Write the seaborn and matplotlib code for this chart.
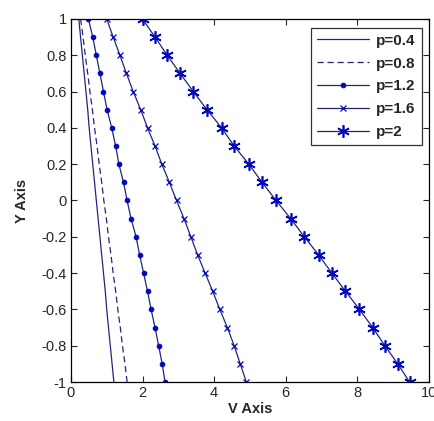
import matplotlib
matplotlib.use("Agg")
import matplotlib.pyplot as plt
import seaborn as sns
import pandas as pd

y_vals = [1.0, 0.9, 0.8, 0.7, 0.6, 0.5, 0.4, 0.3, 0.2, 0.1, 0.0,
          -0.1, -0.2, -0.3, -0.4, -0.5, -0.6, -0.7, -0.8, -0.9, -1.0]
v_p04 = [0.22, 0.27, 0.32, 0.37, 0.42, 0.47, 0.51, 0.56, 0.61, 0.66, 0.71,
         0.76, 0.81, 0.86, 0.91, 0.96, 1.00, 1.05, 1.10, 1.15, 1.20]
v_p08 = [0.27, 0.34, 0.40, 0.47, 0.53, 0.60, 0.66, 0.73, 0.79, 0.86, 0.92,
         0.99, 1.05, 1.12, 1.18, 1.25, 1.31, 1.38, 1.44, 1.51, 1.57]
v_p12 = [0.49, 0.61, 0.71, 0.81, 0.91, 1.01, 1.14, 1.25, 1.34, 1.47, 1.57,
         1.68, 1.82, 1.92, 2.03, 2.14, 2.24, 2.35, 2.45, 2.55, 2.63]
v_p16 = [1.00, 1.18, 1.37, 1.55, 1.74, 1.95, 2.14, 2.35, 2.54, 2.75, 2.95,
         3.16, 3.35, 3.54, 3.75, 3.96, 4.16, 4.37, 4.56, 4.73, 4.90]
v_p20 = [2.00, 2.35, 2.69, 3.05, 3.42, 3.80, 4.21, 4.56, 4.97, 5.34, 5.73,
         6.14, 6.52, 6.92, 7.29, 7.67, 8.06, 8.43, 8.77, 9.13, 9.46]
labels = ["p=0.4", "p=0.8", "p=1.2", "p=1.6", "p=2"]
x_ticks = [0, 2, 4, 6, 8, 10]
x_ticklabels = ["0", "2", "4", "6", "8", "10"]
y_ticks = [-1, -0.8, -0.6, -0.4, -0.2, 0, 0.2, 0.4, 0.6, 0.8, 1]
y_ticklabels = ["-1", "-0.8", "-0.6", "-0.4", "-0.2", "0", "0.2", "0.4", "0.6", "0.8", "1"]

sns.set_style("ticks")
plt.rcParams["font.family"] = ["Liberation Sans", "DejaVu Sans"]
plt.rcParams["xtick.direction"] = "in"
plt.rcParams["ytick.direction"] = "in"

fig = plt.figure(figsize=(4.35, 4.21), dpi=100)
ax = fig.add_axes([0.163, 0.0926, 0.823, 0.8624])

line_color = "#24247e"
marker_color = "#0008b8"
styles = [
    dict(linestyle="-", marker=None),
    dict(linestyle=(0, (5, 3)), marker=None),
    dict(linestyle="-", marker="o", markersize=3.3),
    dict(linestyle="-", marker="x", markersize=4.2, markeredgewidth=0.9),
    dict(linestyle="-", marker=(6, 2, 0), markersize=9, markeredgewidth=1.2),
]
series = [v_p04, v_p08, v_p12, v_p16, v_p20]
for vals, lab, st in zip(series, labels, styles):
    df = pd.DataFrame({"V": vals, "Y": y_vals})
    kw = dict(st)
    if kw.get("marker") is None:
        kw.pop("marker")
    else:
        kw["markerfacecolor"] = marker_color
        kw["markeredgecolor"] = marker_color
    sns.lineplot(data=df, x="V", y="Y", sort=False, estimator=None, ax=ax,
                 color=line_color, linewidth=0.9, label=lab, **kw)

ax.set_xlim(0, 10)
ax.set_ylim(-1, 1)
ax.set_xticks(x_ticks)
ax.set_xticklabels(x_ticklabels, fontsize=10.5)
ax.set_yticks(y_ticks)
ax.set_yticklabels(y_ticklabels, fontsize=10.5)
ax.tick_params(top=True, right=True, length=4, width=0.8, pad=3)
for s in ax.spines.values():
    s.set_visible(True)
    s.set_color("black")
    s.set_linewidth(0.9)
ax.set_xlabel("V Axis", fontsize=10.5, fontweight="bold", labelpad=1)
ax.set_ylabel("Y Axis", fontsize=10.5, fontweight="bold", labelpad=9)

leg = ax.legend(loc="upper right", bbox_to_anchor=(0.98, 0.976),
                prop={"weight": "bold", "size": 11}, handlelength=3.4,
                frameon=True, fancybox=False, borderpad=0.4, labelspacing=0.58,
                handletextpad=0.45, borderaxespad=0)
leg.get_frame().set_edgecolor("black")
leg.get_frame().set_linewidth(0.9)

fig.savefig("out.png", dpi=100)
